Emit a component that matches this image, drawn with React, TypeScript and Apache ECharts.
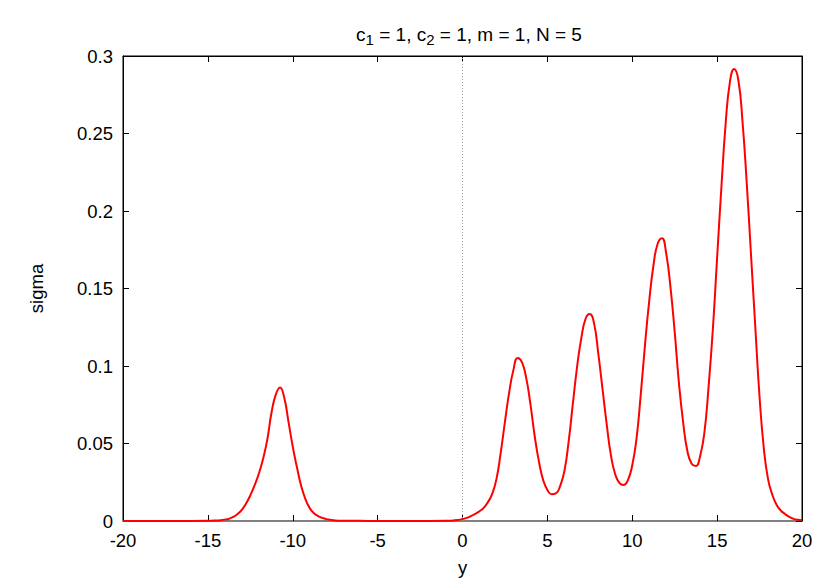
import React, { useEffect, useRef } from "react";
import * as echarts from "echarts";

const xValues = [
  -20, -18, -16, -15, -14.5, -14.25, -14, -13.75, -13.5, -13.25, -13, -12.75, -12.5, -12.25,
  -12, -11.75, -11.5, -11.25, -11, -10.75, -10.5, -10.25, -10, -9.75, -9.5, -9.25, -9, -8.75,
  -8.5, -8.25, -8, -7.5, -7, -6, -5, -4, -3, -2, -1, -0.5,
  0, 0.25, 0.5, 0.75, 1, 1.25, 1.5, 1.75, 2, 2.25, 2.5, 2.75, 3, 3.25, 3.5, 3.75, 4, 4.25, 4.5,
  4.75, 5, 5.25, 5.5, 5.75, 6, 6.25, 6.5, 6.75, 7, 7.25, 7.5, 7.75, 8, 8.25, 8.5, 8.75, 9,
  9.25, 9.5, 9.75, 10, 10.25, 10.5, 10.75, 11, 11.25, 11.5, 11.75, 12, 12.25, 12.5, 12.75, 13,
  13.25, 13.5, 13.75, 14, 14.25, 14.5, 14.75, 15, 15.25, 15.5, 15.75, 16, 16.25, 16.5, 16.75,
  17, 17.25, 17.5, 17.75, 18, 18.25, 18.5, 18.75, 19, 19.25, 19.5, 19.75, 20,
];

const sigmaValues = [
  0, 0, 0, 0.0001, 0.0003, 0.0005, 0.0009, 0.0015, 0.0026, 0.0045, 0.0072, 0.0113, 0.0165,
  0.023, 0.0305, 0.04, 0.0525, 0.07, 0.0815, 0.0862, 0.0795, 0.064, 0.048, 0.0345, 0.0225,
  0.014, 0.0083, 0.005, 0.0031, 0.002, 0.0012, 0.0004, 0.0002, 0.0001, 0, 0, 0, 0, 0.0001,
  0.0004,
  0.0012, 0.002, 0.0032, 0.0046, 0.0063, 0.0085, 0.0122, 0.0175, 0.027, 0.044, 0.064, 0.083,
  0.0975, 0.1052, 0.1025, 0.0925, 0.0755, 0.055, 0.0385, 0.0265, 0.02, 0.0173, 0.0178, 0.0225,
  0.032, 0.051, 0.0755, 0.0995, 0.118, 0.1305, 0.1335, 0.1275, 0.108, 0.085, 0.062, 0.042,
  0.03, 0.0245, 0.0233, 0.0265, 0.036, 0.053, 0.0815, 0.1135, 0.142, 0.165, 0.179, 0.1825,
  0.1725, 0.151, 0.122, 0.089, 0.0635, 0.045, 0.037, 0.0355, 0.042, 0.057, 0.087, 0.124,
  0.17, 0.215, 0.256, 0.283, 0.2916, 0.2845, 0.257, 0.217, 0.171, 0.125, 0.08, 0.047, 0.027,
  0.017, 0.0105, 0.0068, 0.0045, 0.0026, 0.0014, 0.0008, 0.0005,
];

const FONT = "'Liberation Sans', Arial, sans-serif";
const FS = 18.5;

export default function App() {
  const ref = useRef<HTMLDivElement>(null);
  useEffect(() => {
    if (!ref.current) return;
    const chart = echarts.init(ref.current, null, { renderer: "svg" });
    const data = xValues.map((x, i) => [x, sigmaValues[i]]);
    const tickStyle = { color: "#000", width: 1 };
    chart.setOption({
      animation: false,
      backgroundColor: "#fff",
      textStyle: { fontFamily: FONT },
      title: {
        text: "{a|c}{s|1}{a| = 1, c}{s|2}{a| = 1, m = 1, N = 5}",
        left: 456,
        top: 9,
        textAlign: "center",
        textStyle: {
          fontWeight: "normal",
          rich: {
            a: { fontSize: 19, fontFamily: FONT, color: "#000", lineHeight: 24, fontWeight: "normal" },
            s: { fontSize: 15, fontFamily: FONT, color: "#000", padding: [10, 0, 0, 0], lineHeight: 24, fontWeight: "normal" },
          },
        },
      },
      grid: {
        left: 115,
        right: 20,
        top: 48,
        bottom: 60,
        show: true,
        borderColor: "#000",
        borderWidth: 1,
        outerBoundsMode: "none",
        containLabel: false,
      },
      xAxis: [
        {
          type: "value",
          min: -20,
          max: 20,
          interval: 5,
          name: "y",
          nameLocation: "middle",
          nameGap: 37,
          nameTextStyle: { fontSize: FS, color: "#000", fontFamily: FONT },
          axisLine: { show: true, onZero: false, lineStyle: { color: "#808080", width: 2 } },
          axisTick: { inside: true, length: 6, lineStyle: tickStyle },
          axisLabel: { fontSize: FS, color: "#000", margin: 10, fontFamily: FONT },
          splitLine: { show: false },
        },
        {
          type: "value",
          position: "top",
          min: -20,
          max: 20,
          interval: 5,
          axisLine: { show: true, onZero: false, lineStyle: { color: "#000", width: 1 } },
          axisTick: { inside: true, length: 6, lineStyle: tickStyle },
          axisLabel: { show: false },
          splitLine: { show: false },
        },
      ],
      yAxis: [
        {
          type: "value",
          min: 0,
          max: 0.3,
          interval: 0.05,
          name: "sigma",
          nameLocation: "middle",
          nameGap: 77,
          nameTextStyle: { fontSize: FS, color: "#000", fontFamily: FONT },
          axisLine: { show: true, onZero: false, lineStyle: { color: "#000", width: 1 } },
          axisTick: { inside: true, length: 6, lineStyle: tickStyle },
          axisLabel: { fontSize: FS, color: "#000", margin: 10, fontFamily: FONT },
          splitLine: { show: false },
        },
        {
          type: "value",
          position: "right",
          min: 0,
          max: 0.3,
          interval: 0.05,
          axisLine: { show: true, onZero: false, lineStyle: { color: "#000", width: 1 } },
          axisTick: { inside: true, length: 6, lineStyle: tickStyle },
          axisLabel: { show: false },
          splitLine: { show: false },
        },
      ],
      series: [
        {
          type: "line",
          data,
          showSymbol: false,
          smooth: 0.5,
          lineStyle: { color: "#ff0000", width: 2 },
          itemStyle: { color: "#ff0000" },
          z: 3,
          markLine: {
            silent: true,
            symbol: "none",
            label: { show: false },
            lineStyle: { color: "#a0a0a0", type: [1, 2], width: 1 },
            data: [{ xAxis: 0 }],
            z: 1,
          },
        },
      ],
    });
    return () => chart.dispose();
  }, []);
  return <div ref={ref} style={{ width: 814, height: 573 }} />;
}
